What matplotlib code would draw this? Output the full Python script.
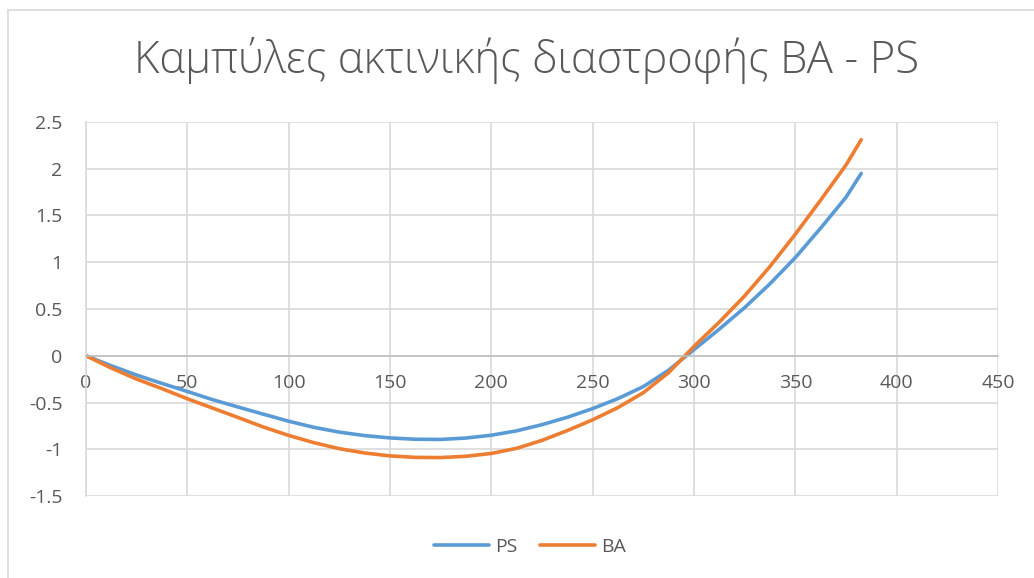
import matplotlib
matplotlib.use("Agg")
import matplotlib.pyplot as plt
from matplotlib.patches import Rectangle

# radial distortion read at fixed radii
radius = [0, 12.5, 25, 37.5, 50, 62.5, 75, 87.5, 100, 112.5, 125, 137.5, 150, 162.5,
          175, 187.5, 200, 212.5, 225, 237.5, 250, 262.5, 275, 287.5, 300, 312.5,
          325, 337.5, 350, 362.5, 375, 382.5]
ps = [0, -0.107, -0.207, -0.296, -0.382, -0.470, -0.548, -0.625, -0.700, -0.766, -0.817,
      -0.854, -0.879, -0.893, -0.895, -0.880, -0.850, -0.803, -0.737, -0.658, -0.565,
      -0.458, -0.330, -0.154, 0.065, 0.285, 0.515, 0.77, 1.05, 1.365, 1.695, 1.95]
ba = [0, -0.132, -0.25, -0.352, -0.46, -0.56, -0.66, -0.762, -0.852, -0.930, -0.994,
      -1.04, -1.071, -1.087, -1.089, -1.075, -1.045, -0.990, -0.905, -0.80, -0.685,
      -0.554, -0.395, -0.18, 0.10, 0.36, 0.64, 0.955, 1.30, 1.665, 2.04, 2.31]

x_ticks = [0, 50, 100, 150, 200, 250, 300, 350, 400, 450]
y_ticks = [-1.5, -1, -0.5, 0, 0.5, 1, 1.5, 2, 2.5]
title = "Καμπύλες ακτινικής διαστροφής BA - PS"

plt.rcParams['font.family'] = ['Open Sans', 'DejaVu Sans']
text_color = '#595959'
grid_color = '#D9D9D9'

W, H = 1034, 578
fig = plt.figure(figsize=(W / 100, H / 100), dpi=100)

# chart frame (only left and top edges fall inside the image)
fig.patches.append(Rectangle((8 / W, -0.1), 1.1, 1.1 - 10 / H, transform=fig.transFigure,
                             fill=False, edgecolor=grid_color, linewidth=1.2))

ax = fig.add_axes([86 / W, 82 / H, (998 - 86) / W, (496 - 122) / H])
ax.plot(radius, ps, color='#5B9BD5', linewidth=2.6, label='PS',
        solid_capstyle='round', solid_joinstyle='round')
ax.plot(radius, ba, color='#ED7D31', linewidth=2.6, label='BA',
        solid_capstyle='round', solid_joinstyle='round')

ax.set_xlim(0, 450)
ax.set_ylim(-1.5, 2.5)
ax.set_xticks(x_ticks)
ax.set_yticks(y_ticks)
ax.set_xticklabels([str(v) for v in x_ticks])
ax.set_yticklabels(['{:g}'.format(v) for v in y_ticks])
ax.grid(True, color=grid_color, linewidth=1.2)
ax.set_axisbelow(True)

for side in ['top', 'right']:
    ax.spines[side].set_visible(False)
ax.spines['left'].set_color(grid_color)
ax.spines['left'].set_linewidth(1.2)
ax.spines['bottom'].set_position(('data', 0))
ax.spines['bottom'].set_color('#BFBFBF')
ax.spines['bottom'].set_linewidth(1.2)
ax.tick_params(axis='both', length=0, labelsize=14, colors=text_color)
ax.tick_params(axis='y', pad=17)
ax.tick_params(axis='x', pad=13)

fig.text(527 / W, 1 - 61 / H, title, ha='center', va='center', fontsize=31.5,
         color=text_color, fontweight='light')

leg = fig.legend(loc='center', bbox_to_anchor=(530 / W, 1 - 547 / H), ncol=2, frameon=False,
                 fontsize=14, handlelength=2.8, columnspacing=1.2, handletextpad=0.3)
for t in leg.get_texts():
    t.set_color(text_color)

fig.savefig('out.png', dpi=100)
